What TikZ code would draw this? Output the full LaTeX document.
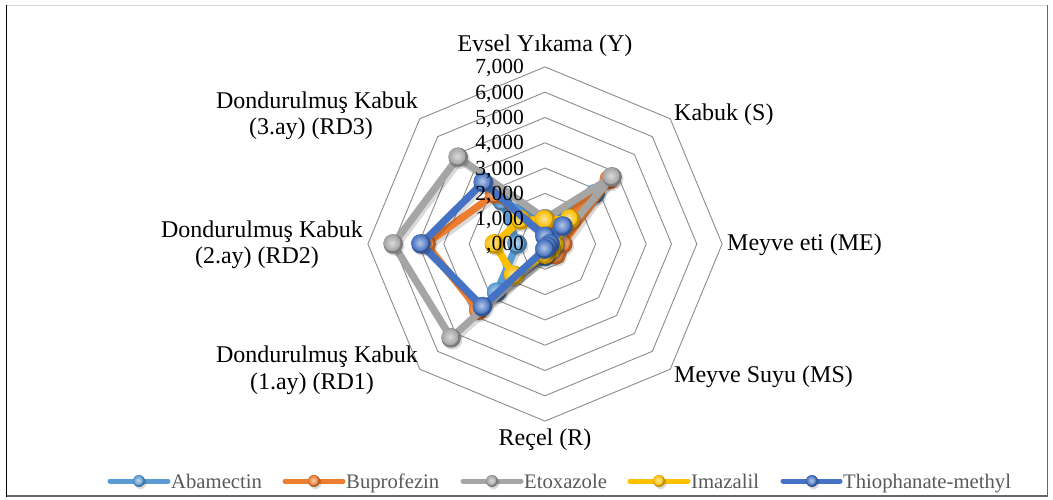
\documentclass[tikz,border=0pt]{standalone}
\usepackage{fontspec}
\setmainfont{Liberation Serif}
\definecolor{cAb}{HTML}{5B9BD5}
\definecolor{cBu}{HTML}{ED7D31}
\definecolor{cEt}{HTML}{A5A5A5}
\definecolor{cIm}{HTML}{FFC000}
\definecolor{cTh}{HTML}{4472C4}
\definecolor{ringc}{HTML}{8C8C8C}
\definecolor{legc}{HTML}{595959}
\tikzset{
  ring/.style={draw=ringc, line width=0.9pt, line join=miter},
  serline/.style={line width=7.2pt, line join=round, line cap=round},
  axlab/.style={font=\fontsize{24pt}{28pt}\selectfont, inner sep=0pt, anchor=base},
  ticklab/.style={font=\fontsize{21.5pt}{25pt}\selectfont, inner sep=0pt, anchor=base east},
  legtext/.style={font=\fontsize{20.7pt}{24pt}\selectfont, text=legc, inner sep=0pt, anchor=base west},
  legline/.style={line width=5pt, line cap=round},
}
\newcommand\defser[9]{%
  \path (90:{#2*25.3pt}) coordinate (#1-1)
        (45:{#3*25.3pt}) coordinate (#1-2)
        (0:{#4*25.3pt}) coordinate (#1-3)
        (-45:{#5*25.3pt}) coordinate (#1-4)
        (-90:{#6*25.3pt}) coordinate (#1-5)
        (-135:{#7*25.3pt}) coordinate (#1-6)
        (180:{#8*25.3pt}) coordinate (#1-7)
        (135:{#9*25.3pt}) coordinate (#1-8);}
\newcommand\marker[3]{% point, color, radius
  \fill[black, opacity=0.15] ([xshift=1.5pt, yshift=-2pt]#1) circle[radius=#3];
  \fill[#2!75!black] (#1) circle[radius=#3];
  \shade[inner color=#2!35!white, outer color=#2, opacity=0.95] ([xshift=-0.12*#3, yshift=0.12*#3]#1) circle[radius=0.86*#3];}
\newcommand\drawser[2]{%
  \draw[serline, draw=black, opacity=0.15, transform canvas={shift={(2pt,-3pt)}}]
    (#1-1) -- (#1-2) -- (#1-3) -- (#1-4) -- (#1-5) -- (#1-6) -- (#1-7) -- (#1-8) -- cycle;
  \draw[serline, draw=#2]
    (#1-1) -- (#1-2) -- (#1-3) -- (#1-4) -- (#1-5) -- (#1-6) -- (#1-7) -- (#1-8) -- cycle;
  \foreach \i in {1,...,8}{\marker{#1-\i}{#2}{9.8pt}}}
\newcommand\legitem[6]{% name, color, x1, xm, x2, text
  \draw[legline, draw=#2] (#3,481) -- (#5,481);
  \marker{#4,481}{#2}{6pt}
  \node[legtext] (#1) at ([xshift=3pt]#5,488) {#6};}
\begin{document}
\begin{tikzpicture}[x=1pt, y=-1pt]
\useasboundingbox (0,0) rectangle (1053,500);
\fill[white] (0,0) rectangle (1053,500);
% frame
\draw[black!15, line width=1pt] (6,5.5) -- (1048,5.5);
\draw[black!60, line width=1.2pt] (1047.5,5) -- (1047.5,496);
\draw[black!60, line width=2pt] (6,496) -- (1048,496);
\draw[black, line width=1.2pt] (6.5,5) -- (6.5,497);
\begin{scope}[shift={(545,244)}]
  \foreach \k in {1,...,7}{
    \draw[ring] (90:{\k*25.3pt}) -- (45:{\k*25.3pt}) -- (0:{\k*25.3pt}) -- (-45:{\k*25.3pt})
      -- (-90:{\k*25.3pt}) -- (-135:{\k*25.3pt}) -- (180:{\k*25.3pt}) -- (135:{\k*25.3pt}) -- cycle;}
  % Y, S, ME, MS, R, RD1, RD2, RD3
  \defser{ab}{0.9}{2.8}{0.35}{0.3}{0.5}{2.7}{1.1}{2.4}
  \defser{bu}{0.35}{3.6}{0.7}{0.6}{0.4}{3.7}{4.7}{2.8}
  \defser{et}{1.0}{3.75}{0.4}{0.35}{0.35}{5.25}{6.0}{4.85}
  \defser{im}{0.95}{1.4}{0.35}{0.3}{0.4}{1.75}{2.0}{1.35}
  \defser{th}{0.3}{1.0}{0.2}{0.15}{0.2}{3.5}{4.9}{3.45}
  \drawser{ab}{cAb}
  \drawser{bu}{cBu}
  \drawser{et}{cEt}
  \drawser{im}{cIm}
  \drawser{th}{cTh}
\end{scope}
% tick labels (baseline ~ ring level + 7)
\node[ticklab] (t7) at (524,{251-7*25.3}) {7,000};
\node[ticklab] (t6) at (524,{251-6*25.3}) {6,000};
\node[ticklab] (t5) at (524,{251-5*25.3}) {5,000};
\node[ticklab] (t4) at (524,{251-4*25.3}) {4,000};
\node[ticklab] (t3) at (524,{251-3*25.3}) {3,000};
\node[ticklab] (t2) at (524,{251-2*25.3}) {2,000};
\node[ticklab] (t1) at (524,{251-1*25.3}) {1,000};
\node[ticklab] (t0) at (524,251) {,000};
% axis labels
\node[axlab] (lY) at (545,52) {Evsel Yıkama (Y)};
\node[axlab, anchor=base west] (lS) at (674,121) {Kabuk (S)};
\node[axlab, anchor=base west] (lME) at (727,251) {Meyve eti (ME)};
\node[axlab, anchor=base west] (lMS) at (674,382) {Meyve Suyu (MS)};
\node[axlab] (lR) at (545,445) {Reçel (R)};
\node[axlab] (lRD1a) at (317,362) {Dondurulmuş Kabuk};
\node[axlab] (lRD1b) at (312,389) {(1.ay) (RD1)};
\node[axlab] (lRD2a) at (262,237) {Dondurulmuş Kabuk};
\node[axlab] (lRD2b) at (257,263) {(2.ay) (RD2)};
\node[axlab] (lRD3a) at (317,109) {Dondurulmuş Kabuk};
\node[axlab] (lRD3b) at (311,135) {(3.ay) (RD3)};
% legend
\legitem{gAb}{cAb}{110}{139}{168}{Abamectin}
\legitem{gBu}{cBu}{285}{314}{343}{Buprofezin}
\legitem{gEt}{cEt}{463}{492}{521}{Etoxazole}
\legitem{gIm}{cIm}{630}{659}{688}{Imazalil}
\legitem{gTh}{cTh}{783}{812}{840}{Thiophanate-methyl}
\end{tikzpicture}
\end{document}
